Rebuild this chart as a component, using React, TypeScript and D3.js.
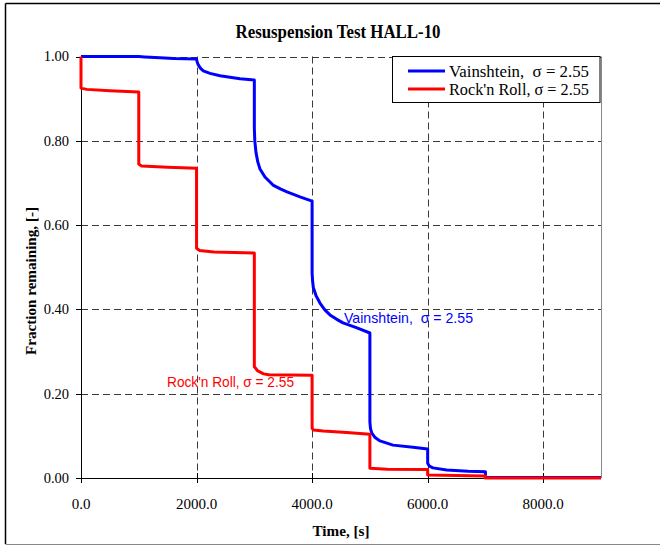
import React from "react";
import * as d3 from "d3";

// Resuspension test HALL-10: fraction of deposit remaining versus time
const chartTitle = "Resuspension Test HALL-10";
const xTitle = "Time, [s]";
const yTitle = "Fraction remaining, [-]";

const xTicks = [0, 2000, 4000, 6000, 8000];
const yTicks = [0, 0.2, 0.4, 0.6, 0.8, 1.0];

// Vainshtein model, sigma = 2.55  ([time s, fraction])
const vainshtein: [number, number][] = [
  [0, 1.0], [1000, 1.0], [1100, 0.999], [1370, 0.997], [1600, 0.995], [2000, 0.994],
  [2008, 0.988], [2030, 0.98], [2070, 0.972], [2117, 0.966], [2233, 0.96], [2406, 0.9545],
  [2579, 0.9507], [2752, 0.947], [3000, 0.944],
  [3000, 0.83], [3008, 0.8], [3029, 0.772], [3060, 0.75], [3098, 0.733], [3184, 0.714],
  [3323, 0.695], [3450, 0.686], [3565, 0.679], [3790, 0.667], [4000, 0.657],
  [4000, 0.486], [4008, 0.468], [4021, 0.452], [4070, 0.432], [4136, 0.415], [4220, 0.399],
  [4309, 0.387], [4420, 0.377], [4535, 0.368], [4777, 0.356], [5000, 0.344],
  [5000, 0.133], [5010, 0.118], [5031, 0.107], [5090, 0.096], [5175, 0.088], [5400, 0.078],
  [5746, 0.073], [6000, 0.069],
  [6000, 0.035], [6030, 0.028], [6092, 0.024], [6329, 0.019], [6700, 0.016], [7000, 0.015],
  [7000, 0.001], [9000, 0.001],
];

// Rock'n Roll model, sigma = 2.55
const rocknroll: [number, number][] = [
  [0, 1.0], [0, 0.925], [100, 0.922], [500, 0.919], [1000, 0.916],
  [1000, 0.745], [1050, 0.74], [1500, 0.737], [2000, 0.735],
  [2000, 0.545], [2050, 0.54], [2300, 0.536], [3000, 0.534],
  [3000, 0.264], [3060, 0.254], [3160, 0.247], [3250, 0.245], [4000, 0.244],
  [4000, 0.118], [4020, 0.114], [4194, 0.1115], [4598, 0.108], [5000, 0.104],
  [5000, 0.023], [5300, 0.021], [6000, 0.02],
  [6000, 0.007], [7000, 0.005],
  [7000, 0.0], [9000, 0.0],
];

const seriesNames = ["Vainshtein,  σ = 2.55", "Rock'n Roll, σ = 2.55"];
const seriesColors = ["#0000ff", "#ff0000"];

const W = 660;
const H = 546;
const left = 81;
const right = 601;
const top = 56.5;
const bottom = 478;

export default function App() {
  const x = d3.scaleLinear().domain([0, 9000]).range([left, right]);
  const y = d3.scaleLinear().domain([0, 1]).range([bottom, top]);
  const line = d3
    .line<[number, number]>()
    .x((d) => x(d[0]))
    .y((d) => y(d[1]));

  const serif = "'Liberation Serif', 'Times New Roman', serif";
  const sans = "'Liberation Sans', Arial, sans-serif";
  const fmtY = d3.format(".2f");
  const fmtX = d3.format(".1f");
  const grid = "#3a3a3a";

  return (
    <svg
      width={W}
      height={H}
      style={{ position: "absolute", left: 0, top: 0, background: "#fff" }}
    >
      <rect x={0} y={0} width={W} height={H} fill="#fff" />
      {/* outer frame */}
      <line x1={5.5} y1={3.5} x2={W} y2={3.5} stroke="#000" strokeWidth={1.5} />
      <line x1={5.5} y1={3.5} x2={5.5} y2={544} stroke="#000" strokeWidth={1.5} />
      <line x1={5.5} y1={544.5} x2={W} y2={544.5} stroke="#888" strokeWidth={1} />

      <text
        x={338}
        y={38}
        textAnchor="middle"
        fontFamily={serif}
        fontWeight="bold"
        fontSize={18}
        textLength={205}
        lengthAdjust="spacingAndGlyphs"
      >
        {chartTitle}
      </text>

      {/* gridlines */}
      {yTicks
        .filter((t) => t > 0)
        .map((t) => (
          <line
            key={"gy" + t}
            x1={left}
            x2={right}
            y1={Math.round(y(t)) + 0.5}
            y2={Math.round(y(t)) + 0.5}
            stroke={grid}
            strokeWidth={1}
            strokeDasharray="7,4"
          />
        ))}
      {xTicks
        .filter((t) => t > 0)
        .map((t) => (
          <line
            key={"gx" + t}
            x1={Math.round(x(t)) + 0.5}
            x2={Math.round(x(t)) + 0.5}
            y1={top}
            y2={bottom}
            stroke={grid}
            strokeWidth={1}
            strokeDasharray="7,4"
          />
        ))}

      {/* plot border right */}
      <line x1={right + 0.5} x2={right + 0.5} y1={top} y2={bottom} stroke="#888" strokeWidth={1} />

      {/* axes */}
      <line x1={left} x2={right} y1={bottom + 0.5} y2={bottom + 0.5} stroke="#000" strokeWidth={1} />
      <line x1={left + 0.5} x2={left + 0.5} y1={top} y2={bottom + 0.5} stroke="#000" strokeWidth={1} />
      {yTicks.map((t) => (
        <g key={"ty" + t}>
          <line
            x1={left - 5}
            x2={left}
            y1={Math.round(y(t)) + 0.5}
            y2={Math.round(y(t)) + 0.5}
            stroke="#000"
          />
          <text
            x={69}
            y={y(t) + 4.8}
            textAnchor="end"
            fontFamily={serif}
            fontSize={14.5}
            fill="#000"
          >
            {fmtY(t)}
          </text>
        </g>
      ))}
      {xTicks.map((t) => (
        <g key={"tx" + t}>
          <line
            x1={Math.round(x(t)) + 0.5}
            x2={Math.round(x(t)) + 0.5}
            y1={bottom - 5}
            y2={bottom + 5}
            stroke="#000"
          />
          <text
            x={x(t)}
            y={508.5}
            textAnchor="middle"
            fontFamily={serif}
            fontSize={15}
            fill="#000"
          >
            {fmtX(t)}
          </text>
        </g>
      ))}

      <text
        x={341}
        y={536}
        textAnchor="middle"
        fontFamily={serif}
        fontWeight="bold"
        fontSize={15}
        textLength={57}
        lengthAdjust="spacingAndGlyphs"
      >
        {xTitle}
      </text>
      <text
        transform={`translate(36,281) rotate(-90)`}
        textAnchor="middle"
        fontFamily={serif}
        fontWeight="bold"
        fontSize={15}
        textLength={148}
        lengthAdjust="spacingAndGlyphs"
      >
        {yTitle}
      </text>

      {/* series */}
      <path d={line(vainshtein) || ""} fill="none" stroke={seriesColors[0]} strokeWidth={3} strokeLinejoin="round" />
      <path d={line(rocknroll) || ""} fill="none" stroke={seriesColors[1]} strokeWidth={3} strokeLinejoin="round" />

      {/* in-plot labels */}
      <text
        x={344}
        y={322.7}
        fontFamily={sans}
        fontSize={15}
        fill={seriesColors[0]}
        textLength={129}
        lengthAdjust="spacingAndGlyphs"
        style={{ whiteSpace: "pre" }}
      >
        {seriesNames[0]}
      </text>
      <text
        x={167}
        y={386.7}
        fontFamily={sans}
        fontSize={14.5}
        fill={seriesColors[1]}
        textLength={127}
        lengthAdjust="spacingAndGlyphs"
        style={{ whiteSpace: "pre" }}
      >
        {seriesNames[1]}
      </text>

      {/* legend */}
      <rect x={392.5} y={56.5} width={207.5} height={46} fill="#fff" stroke="#000" strokeWidth={1} />
      {seriesNames.map((name, i) => (
        <g key={name}>
          <line
            x1={408}
            x2={445}
            y1={71 + i * 18}
            y2={71 + i * 18}
            stroke={seriesColors[i]}
            strokeWidth={3}
          />
          <text
            x={449}
            y={76.5 + i * 18}
            fontFamily={serif}
            fontSize={16}
            textLength={140}
            lengthAdjust="spacingAndGlyphs"
            style={{ whiteSpace: "pre" }}
          >
            {name}
          </text>
        </g>
      ))}
    </svg>
  );
}
